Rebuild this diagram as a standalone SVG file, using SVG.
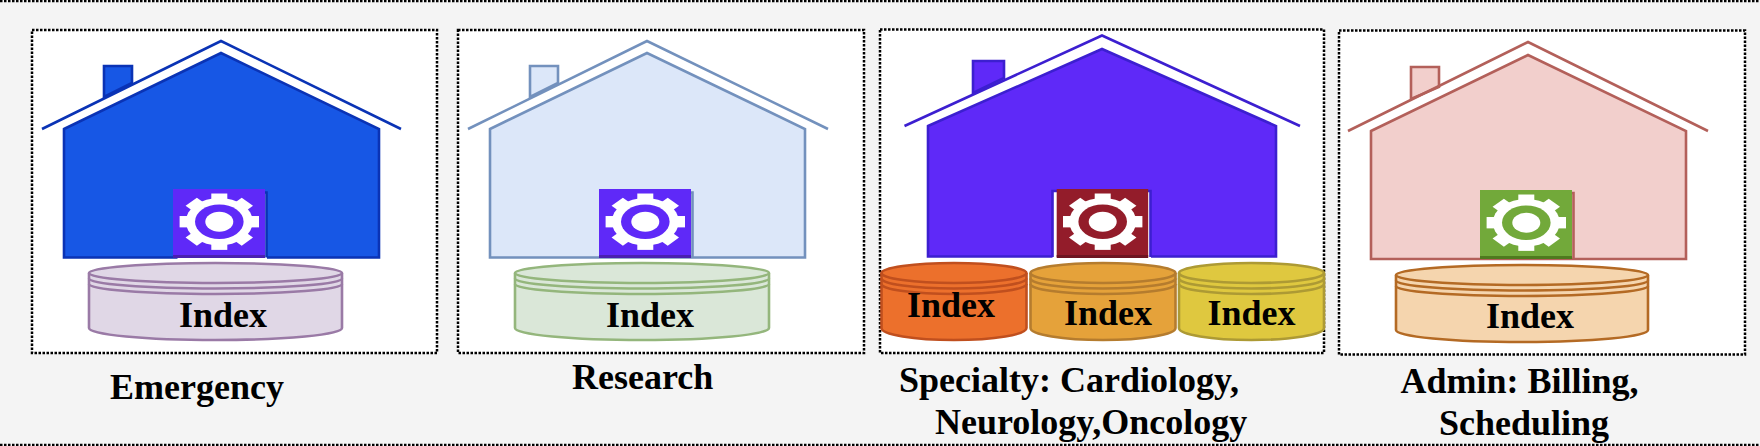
<svg xmlns="http://www.w3.org/2000/svg" xmlns:xlink="http://www.w3.org/1999/xlink" width="1760" height="446" viewBox="0 0 1760 446">
<style>
.frame{fill:#fff;stroke:#000;stroke-width:2.500;stroke-dasharray:2.500 1.500}
.edge{fill:none;stroke:#000;stroke-width:2.500;stroke-dasharray:2.500 1.500}
.roof{fill:none;stroke-width:2.600}
.line{stroke-width:2.600}
.cyl{stroke-width:2.600}
.arc{fill:none;stroke-width:2.600}
text{font-family:"Liberation Serif","Times New Roman",serif;font-weight:700;font-size:36px;fill:#000}
.m{text-anchor:middle}
.h1{fill:#1757e5;stroke:#0a33b5}
.h2{fill:#dce7f9;stroke:#7391bd}
.h3{fill:#5f29f8;stroke:#3c1fd0}
.h4{fill:#f2cfcc;stroke:#b3605a}
.c1{fill:#e0d7e6;stroke:#9a7aa6}
.c2{fill:#dae7d8;stroke:#94b67c}
.c3{fill:#ec702c;stroke:#c04f1e}
.c4{fill:#e5a23a;stroke:#b57c2e}
.c5{fill:#dfc83f;stroke:#ad9a34}
.c6{fill:#f5d5ae;stroke:#b46a24}
</style>
<defs>
<g id="gear">
<g fill="#fff">
<circle r="33.500"/>
<rect x="-39.700" y="-8" width="79.400" height="16"/>
<rect x="-39.700" y="-8" width="79.400" height="16" transform="rotate(45)"/>
<rect x="-39.700" y="-8" width="79.400" height="16" transform="rotate(90)"/>
<rect x="-39.700" y="-8" width="79.400" height="16" transform="rotate(135)"/>
</g>
<circle r="24.300" fill="currentColor"/>
<circle r="14" fill="#fff"/>
</g>
</defs>
<rect width="1760" height="446" fill="#f4f4f4"/>
<path class="edge" d="M0 1H1760M0 445H1760"/>

<g id="emergency">
<rect class="frame" x="32" y="30" width="405" height="323"/>
<path class="h1 line" d="M104 97V66H132V83Z"/>
<path class="roof" stroke="#0a33b5" d="M42 129L221 41L401 129"/>
<path class="h1 line" d="M64 129L221 53L379 129V257.500H64Z"/>
<path d="M177.500 192.500H267V258.900H177.500Z" fill="#fff"/>
<path fill="none" stroke="#0a33b5" stroke-width="2.600" d="M177.500 192.500H266.500V257.500"/>
<rect x="173" y="189" width="92" height="68" fill="#5f29f8"/>
<rect x="173" y="255" width="92" height="3" fill="#4a1fb0"/>
<use xlink:href="#gear" href="#gear" transform="translate(219.300 221.700) scale(1 .71)" style="color:#5f29f8"/>
<path class="c1 cyl" d="M89 273V328A126.500 12 0 0 0 342 328V273A126.500 10 0 0 0 89 273Z"/>
<path class="arc" stroke="#9a7aa6" d="M89 273A126.500 10 0 0 0 342 273M89 278.500A126.500 10 0 0 0 342 278.500M89 284A126.500 10 0 0 0 342 284"/>
<text class="m" x="223" y="327">Index</text>
<text x="110" y="399">Emergency</text>
</g>

<g id="research">
<rect class="frame" x="458" y="30" width="406" height="323"/>
<path class="h2 line" d="M530 97V66H558V83Z"/>
<path class="roof" stroke="#7391bd" d="M468 129L647 41L828 129"/>
<path class="h2 line" d="M490 129L647 53L805 129V257.500H490Z"/>
<path fill="none" stroke="#7391bd" stroke-width="2.600" d="M691 192.500H692.500V257.500"/>
<rect x="599" y="189" width="92" height="68" fill="#5f29f8"/>
<rect x="599" y="255" width="92" height="3" fill="#4a1fb0"/>
<use xlink:href="#gear" href="#gear" transform="translate(645.300 221.700) scale(1 .71)" style="color:#5f29f8"/>
<path class="c2 cyl" d="M515 273V328A127 12 0 0 0 769 328V273A127 10 0 0 0 515 273Z"/>
<path class="arc" stroke="#94b67c" d="M515 273A127 10 0 0 0 769 273M515 278.500A127 10 0 0 0 769 278.500M515 284A127 10 0 0 0 769 284"/>
<text class="m" x="650" y="327">Index</text>
<text x="572" y="389">Research</text>
</g>

<g id="specialty">
<rect class="frame" x="880" y="29.500" width="444" height="323.500"/>
<path class="h3 line" d="M973 93V61H1004V78Z"/>
<path class="roof" stroke="#3c1fd0" d="M904.500 126L1102 35.500L1300 126"/>
<path class="h3 line" d="M928 126L1102 49L1276 126V256.500H928Z"/>
<path d="M1052.500 191H1151V258.500H1052.500Z" fill="#fff"/>
<path fill="none" stroke="#3c1fd0" stroke-width="2.600" d="M1052.500 257V191H1150.500V257"/>
<rect x="1056.700" y="189" width="91.500" height="68" fill="#931c2a"/>
<rect x="1056.700" y="255" width="91.500" height="3" fill="#6e1420"/>
<use xlink:href="#gear" href="#gear" transform="translate(1102.700 221.700) scale(1 .71)" style="color:#931c2a"/>
<path class="c3 cyl" d="M881.500 273V328A72.500 12 0 0 0 1026.500 328V273A72.500 10 0 0 0 881.500 273Z"/>
<path class="arc" stroke="#c04f1e" d="M881.500 273A72.500 10 0 0 0 1026.500 273M881.500 278.500A72.500 10 0 0 0 1026.500 278.500M881.500 284A72.500 10 0 0 0 1026.500 284"/>
<text class="m" x="951" y="316.500">Index</text>
<path class="c4 cyl" d="M1030.500 273V328A72.500 12 0 0 0 1175.500 328V273A72.500 10 0 0 0 1030.500 273Z"/>
<path class="arc" stroke="#b57c2e" d="M1030.500 273A72.500 10 0 0 0 1175.500 273M1030.500 278.500A72.500 10 0 0 0 1175.500 278.500M1030.500 284A72.500 10 0 0 0 1175.500 284"/>
<text class="m" x="1108" y="325">Index</text>
<path class="c5 cyl" d="M1179 273V328A72.500 12 0 0 0 1324 328V273A72.500 10 0 0 0 1179 273Z"/>
<path class="arc" stroke="#ad9a34" d="M1179 273A72.500 10 0 0 0 1324 273M1179 278.500A72.500 10 0 0 0 1324 278.500M1179 284A72.500 10 0 0 0 1324 284"/>
<text class="m" x="1251.500" y="325">Index</text>
<text x="899" y="392">Specialty: Cardiology,</text>
<text x="935" y="434">Neurology,Oncology</text>
</g>

<g id="admin">
<rect class="frame" x="1339" y="30.500" width="406" height="324"/>
<path class="h4 line" d="M1411 99V67H1439V87Z"/>
<path class="roof" stroke="#b3605a" d="M1348 131L1528 42L1708 131"/>
<path class="h4 line" d="M1371 131L1528 55L1686 131V259H1371Z"/>
<path fill="none" stroke="#b3605a" stroke-width="2.600" d="M1572 193H1573.500V259"/>
<rect x="1480" y="190" width="92" height="68" fill="#72a93a"/>
<rect x="1480" y="256" width="92" height="3" fill="#4f7a1e"/>
<use xlink:href="#gear" href="#gear" transform="translate(1526.300 222.700) scale(1 .71)" style="color:#72a93a"/>
<path class="c6 cyl" d="M1396 275V330A126 12 0 0 0 1648 330V275A126 10 0 0 0 1396 275Z"/>
<path class="arc" stroke="#b46a24" d="M1396 275A126 10 0 0 0 1648 275M1396 280.500A126 10 0 0 0 1648 280.500M1396 286A126 10 0 0 0 1648 286"/>
<text class="m" x="1530" y="328">Index</text>
<text x="1400.500" y="393">Admin: Billing,</text>
<text x="1439" y="435">Scheduling</text>
</g>
</svg>
